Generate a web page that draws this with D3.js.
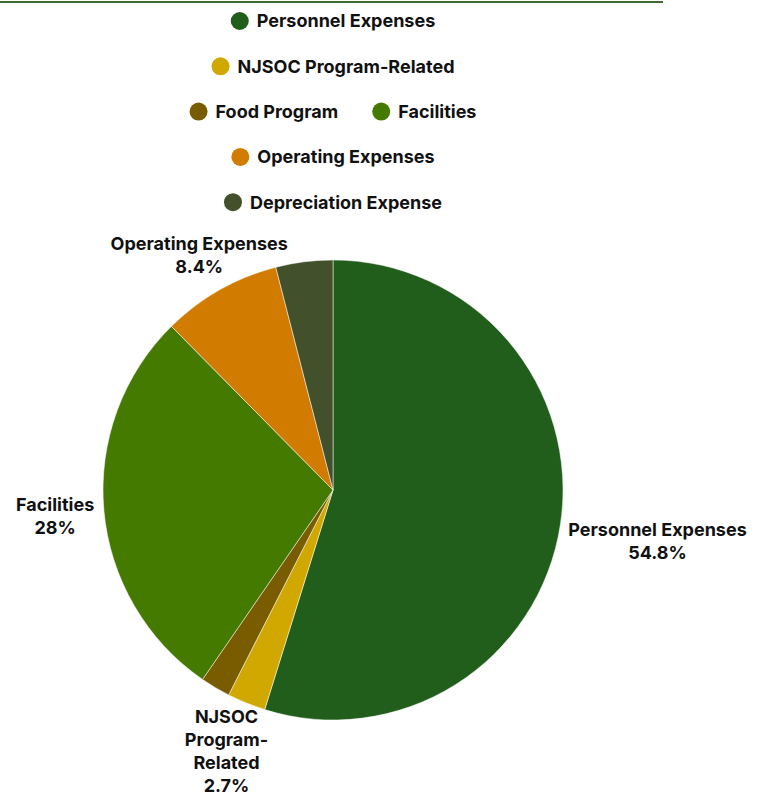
<!DOCTYPE html>
<html>
<head>
<meta charset="utf-8">
<script src="https://cdn.jsdelivr.net/npm/d3@7"></script>
<style>
  body { margin: 0; background: #fff; }
  svg text { font-family: Inter, "Noto Sans", sans-serif; font-weight: 700; fill: #111; }
</style>
</head>
<body>
<svg id="chart" width="759" height="797"></svg>
<script>
const categories = ['Personnel Expenses', 'NJSOC Program-Related', 'Food Program', 'Facilities', 'Operating Expenses', 'Depreciation Expense'];
const values = [54.8, 2.7, 2.1, 28, 8.4, 4.0];
const colors = ['#215e1b', '#d1a800', '#7a5c00', '#447a00', '#d17b00', '#42512b'];

const svg = d3.select('svg#chart');
const cx = 333, cy = 490, r = 230;

// top rule
svg.append('line')
  .attr('x1', 0).attr('x2', 663)
  .attr('y1', 2).attr('y2', 2)
  .attr('stroke', '#3b6b2e')
  .attr('stroke-width', 2);

const color = d3.scaleOrdinal().domain(categories).range(colors);

// legend, greedy wrapped rows centred on the pie
const legend = svg.append('g');
const fs = 18, dotR = 9, dotGap = 8, itemGap = 34, maxRow = 330;
const items = categories.map(c => {
  const t = legend.append('text').attr('font-size', fs).text(c);
  const w = t.node().getComputedTextLength();
  t.remove();
  return { name: c, w: dotR * 2 + dotGap + w };
});
const rows = [];
items.forEach(it => {
  const row = rows[rows.length - 1];
  if (row && row.width + itemGap + it.w <= maxRow) {
    row.items.push(it); row.width += itemGap + it.w;
  } else rows.push({ items: [it], width: it.w });
});
rows.forEach((row, i) => {
  const y = 21 + i * 45.3;
  let x = cx - row.width / 2;
  row.items.forEach(it => {
    legend.append('circle')
      .attr('cx', x + dotR).attr('cy', y).attr('r', dotR)
      .attr('fill', color(it.name));
    legend.append('text')
      .attr('x', x + dotR * 2 + dotGap).attr('y', y)
      .attr('dy', '0.35em').attr('font-size', fs)
      .text(it.name);
    x += it.w + itemGap;
  });
});

// pie
const pie = d3.pie().sort(null).value(d => d.v);
const arcs = pie(categories.map((c, i) => ({ name: c, v: values[i] })));
const arc = d3.arc().innerRadius(0).outerRadius(r);

const g = svg.append('g').attr('transform', `translate(${cx},${cy})`);
g.selectAll('path')
  .data(arcs)
  .enter().append('path')
  .attr('d', arc)
  .attr('fill', d => color(d.data.name))
  .attr('stroke', '#fff')
  .attr('stroke-width', 0.5);

// labels outside the pie (small slices near the bottom wrap, tiny ones hidden)
const lineH = 23;
arcs.filter(d => d.data.name !== 'Food Program' && d.data.name !== 'Depreciation Expense')
  .forEach(d => {
    const a = (d.startAngle + d.endAngle) / 2;
    const bottom = Math.cos(a) < -0.8;
    let lines = [d.data.name];
    if (bottom) lines = d.data.name.replace('-', '- ').split(' ').filter(s => s);
    lines.push(d3.format('~r')(d.data.v) + '%');
    const t = g.append('text').attr('font-size', fs).attr('text-anchor', 'middle');
    lines.forEach((l, i) => t.append('tspan').attr('x', 0).attr('dy', i ? lineH : 0).text(l));
    const bb = t.node().getBBox();
    const hw = bb.width / 2, hh = lines.length * lineH / 2;
    const dist = r + 10 + Math.max(hw * Math.abs(Math.sin(a)), hh * Math.abs(Math.cos(a)));
    const x = dist * Math.sin(a), y = -dist * Math.cos(a);
    const nudge = Math.cos(a) > 0.5 ? 12 : (bottom ? 0 : 2);
    t.attr('transform', `translate(${x + (Math.cos(a) > 0.5 ? 6 : 0)},${y - hh + lineH * 0.5 + 6 + nudge})`);
  });
</script>
</body>
</html>
